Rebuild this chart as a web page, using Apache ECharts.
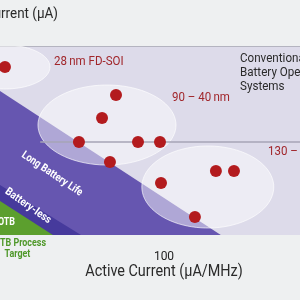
<!DOCTYPE html>
<html><head><meta charset="utf-8">
<script src="https://cdn.jsdelivr.net/npm/echarts@6/dist/echarts.min.js"></script>
<style>html,body{margin:0;padding:0;background:#eef0f1}#c{width:300px;height:300px}</style>
</head><body><div id="c"></div>
<script>
// Active current (μA/MHz) vs. standby current (μA), log-log
const processDots = [
  [11.6, 4.64],
  [52.2, 1.67], [43.2, 0.72], [31.6, 0.3], [70.3, 0.3], [94.7, 0.3], [48.1, 0.144],
  [96, 0.067], [202, 0.104], [258, 0.104], [152, 0.0193]
];
// node groupings: centre (data) and half-extent in decades [x, y]
const groupNames = ['28 nm FD-SOI', '90 – 40 nm', '130 – 90 nm'];
const groupCentres = [[11.6, 4.64], [46.2, 0.557], [181, 0.0578]];
const groupExtents = [[0.265, 0.349], [0.406, 0.635], [0.388, 0.651]];
// region boundaries (upper edge of each zone)
const longBatteryEdge = [[10, 2.23], [216, 0.01]];
const batteryLessEdge = [[10, 0.0711], [32.5, 0.01]];
const otbEdge = [[10, 0.0398], [22.2, 0.01]];
const referenceLevel = [[18.7, 0.3], [1000, 0.3]];
const xTickLabels = ['100'];

const FONT = "'Roboto',sans-serif";
const regions = [
  {edge: longBatteryEdge, color: '#6656b0'},
  {edge: batteryLessEdge, color: '#463a9c'},
  {edge: otbEdge, color: '#5c9f2e'}
];
const txt = (x, y, text, font, fill, align, extra) => Object.assign({
  type: 'text', x, y, z: 100, style: {text, font: font + ' ' + FONT, fill, align, verticalAlign: 'middle'}
}, extra || {});

const chart = echarts.init(document.getElementById('c'));
chart.setOption({
  animation: false,
  backgroundColor: '#eef0f1',
  grid: {left: -6, width: 340, top: 46, height: 189, show: true, backgroundColor: '#dddbea', borderWidth: 0,
    outerBoundsMode: 'none', containLabel: false},
  xAxis: [{
    type: 'log', min: 10, max: 1000, logBase: 10,
    axisLine: {show: false}, axisTick: {show: false}, splitLine: {show: false},
    axisLabel: {margin: 16, fontFamily: FONT, fontSize: 12, color: '#222',
      formatter: v => xTickLabels.includes(String(v)) ? String(v) : ''}
  }, {
    type: 'log', min: 10, max: 1000, position: 'top',
    axisLine: {show: true, lineStyle: {color: '#b4b4c0', width: 1}},
    axisTick: {show: false}, axisLabel: {show: false}, splitLine: {show: false}
  }],
  yAxis: {
    type: 'log', min: 0.01, max: 10,
    axisLine: {show: false}, axisTick: {show: false}, splitLine: {show: false}, axisLabel: {show: false}
  },
  series: [
    {
      type: 'custom', clip: true, z: 1, data: regions.map((r, i) => i),
      renderItem: (params, api) => {
        const r = regions[api.value(0)];
        const pts = r.edge.map(p => api.coord(p));
        pts.push(api.coord([10, 0.01]));
        return {type: 'polygon', shape: {points: pts}, style: {fill: r.color}};
      }
    },
    {
      type: 'custom', clip: true, z: 2, data: groupCentres.map((c, i) => i),
      renderItem: (params, api) => {
        const i = api.value(0);
        const c = groupCentres[i], e = groupExtents[i];
        const lx = Math.log10(c[0]), ly = Math.log10(c[1]);
        const pts = [];
        for (let k = 0; k < 90; k++) {
          const t = k / 90 * Math.PI * 2;
          pts.push(api.coord([Math.pow(10, lx + e[0] * Math.cos(t)), Math.pow(10, ly + e[1] * Math.sin(t))]));
        }
        return {type: 'polygon', shape: {points: pts},
          style: {fill: 'rgba(255,255,255,0.48)', stroke: 'rgba(255,255,255,0.65)', lineWidth: 1}};
      }
    },
    {
      type: 'line', z: 3, data: referenceLevel, symbol: 'none',
      lineStyle: {color: '#a6a5b6', width: 1.5}
    },
    {
      type: 'scatter', z: 4, data: processDots, symbolSize: 12,
      itemStyle: {color: '#b31b1e', opacity: 1}
    }
  ],
  graphic: [
    txt(58, 14, 'Current (μA)', '14px', '#2a2a2a', 'right', {scaleX: 0.96}),
    txt(54, 62, groupNames[0].replace(' nm', '\u2009nm'), '12.5px', '#a1262b', 'left', {scaleX: 0.92}),
    txt(172, 98, groupNames[1].replace(' nm', '\u2009nm'), '12.5px', '#a1262b', 'left', {scaleX: 0.92}),
    txt(268, 152, groupNames[2].replace(' nm', '\u2009nm'), '12.5px', '#a1262b', 'left', {scaleX: 0.92}),
    {type: 'text', x: 240, y: 52, z: 100, scaleX: 0.93, style: {text: 'Conventional\nBattery Operated\nSystems', font: '12.5px ' + FONT, lineHeight: 14, fill: '#2a2a2a', align: 'left', verticalAlign: 'top'}},
    txt(52, 174, 'Long Battery Life', 'bold 11px', '#fff', 'center', {rotation: -34 * Math.PI / 180, scaleX: 0.84}),
    txt(28, 206, 'Battery-less', 'bold 11px', '#fff', 'center', {rotation: -35 * Math.PI / 180, scaleX: 0.89}),
    txt(15, 222, 'OTB', 'bold 10.5px', '#fff', 'right', {scaleX: 0.85}),
    txt(46, 243, 'OTB Process', 'bold 10.5px', '#4f982a', 'right', {scaleX: 0.85}),
    txt(17.5, 254, 'Target', 'bold 10.5px', '#4f982a', 'center', {scaleX: 0.85}),
    txt(164, 272, 'Active Current (μA/MHz)', '16px', '#2a2a2a', 'center', {scaleX: 0.9})
  ]
});
</script></body></html>
